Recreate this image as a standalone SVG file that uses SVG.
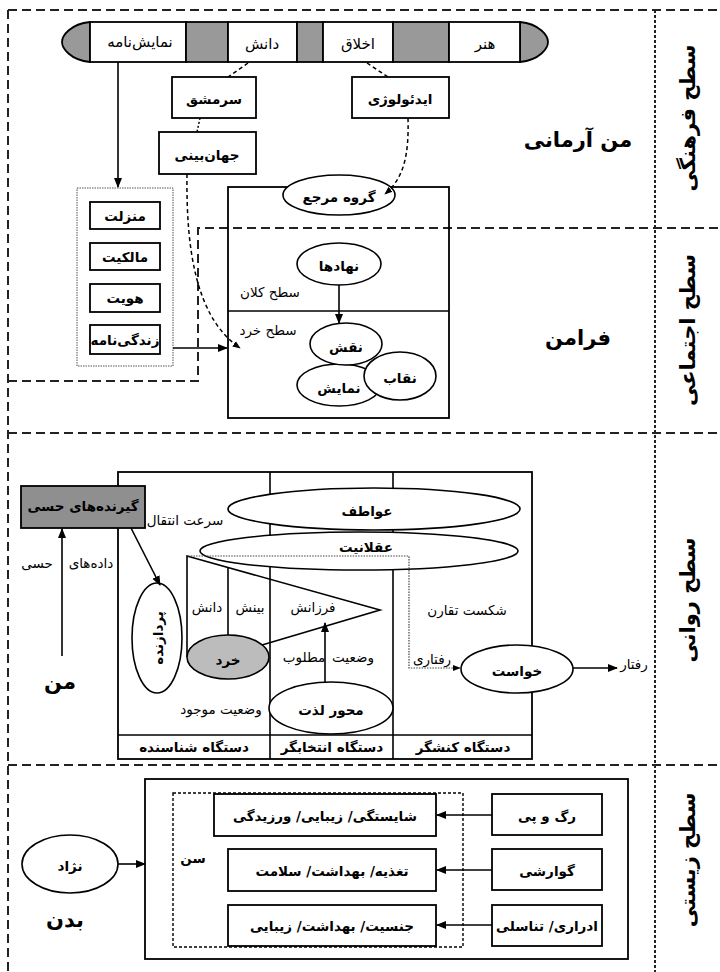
<svg xmlns="http://www.w3.org/2000/svg" width="720" height="972" viewBox="0 0 720 972">
  <defs>
    <marker id="ah" viewBox="0 0 10 10" refX="9" refY="5" markerWidth="8" markerHeight="8" markerUnits="userSpaceOnUse" orient="auto">
      <path d="M0,1 L10,5 L0,9 z" fill="#000"/>
    </marker>
    <marker id="ahL" viewBox="0 0 10 10" refX="9" refY="5" markerWidth="10" markerHeight="10" markerUnits="userSpaceOnUse" orient="auto">
      <path d="M0,1 L10,5 L0,9 z" fill="#000"/>
    </marker>
    <style>
      .frame { fill: none; stroke: #222; stroke-width: 2; stroke-dasharray: 9 5; }
      .divider { fill: none; stroke: #222; stroke-width: 2; stroke-dasharray: 3 2; }
      .box { fill: #fff; stroke: #000; stroke-width: 1.8; }
      .ell { fill: #fff; stroke: #000; stroke-width: 1.6; }
      .gray { fill: #999; stroke: #000; stroke-width: 1.8; }
      .ln { fill: none; stroke: #000; stroke-width: 1.6; }
      .dash { fill: none; stroke: #000; stroke-width: 1.5; stroke-dasharray: 4 3; }
      .dot { fill: none; stroke: #000; stroke-width: 1.5; stroke-dasharray: 2 2; }
      .fine { fill: none; stroke: #555; stroke-width: 1; stroke-dasharray: 1.5 1; }
      text { font-family: "DejaVu Sans", sans-serif; text-anchor: middle; dominant-baseline: central; fill: #000; }
      .t { font-size: 13.5px; }
      .tb { font-size: 13.5px; font-weight: bold; }
      .big { font-size: 21px; font-weight: bold; }
      .lvl { font-size: 21px; font-weight: bold; }
    </style>
  </defs>

  <rect width="720" height="972" fill="#fff"/>

  <!-- level frame and separators -->
  <g id="frame">
    <path class="frame" d="M8,10 H720 M8,10 V972"/>
    <path class="frame" d="M8,381 H198 V228 H720"/>
    <path class="frame" d="M8,433 H720"/>
    <path class="frame" d="M8,765 H720"/>
    <path class="divider" d="M655,10 V972"/>
  </g>

  <!-- level titles -->
  <g id="levels">
    <text class="lvl" transform="translate(688,118) rotate(-90)">سطح فرهنگی</text>
    <text class="lvl" transform="translate(688,330) rotate(-90)">سطح اجتماعی</text>
    <text class="lvl" transform="translate(688,600) rotate(-90)">سطح روانی</text>
    <text class="lvl" transform="translate(688,860) rotate(-90)">سطح زیستی</text>
  </g>

  <!-- cultural bar -->
  <g id="bar">
    <path class="gray" d="M90,22 C70,24 62,36 62,42 C62,48 70,60 90,62 z"/>
    <path class="gray" d="M520,22 C540,24 548,36 548,42 C548,48 540,60 520,62 z"/>
    <rect class="box" x="90" y="22" width="96" height="40"/>
    <rect class="gray" x="186" y="22" width="42" height="40"/>
    <rect class="box" x="228" y="22" width="69" height="40"/>
    <rect class="gray" x="297" y="22" width="26" height="40"/>
    <rect class="box" x="323" y="22" width="70" height="40"/>
    <rect class="gray" x="393" y="22" width="56" height="40"/>
    <rect class="box" x="449" y="22" width="71" height="40"/>
    <text x="140" y="42" font-size="15">نمایش&#x200C;نامه</text>
    <text x="262" y="44" font-size="15">دانش</text>
    <text x="358" y="44" font-size="15">اخلاق</text>
    <text x="485" y="44" font-size="15">هنر</text>
  </g>

  <g id="sarmashgh">
    <rect class="box" x="172" y="77" width="84" height="41"/>
    <text class="tb" x="214" y="99" font-size="15">سرمشق</text>
  </g>
  <g id="jahanbini">
    <rect class="box" x="159" y="132" width="97" height="42"/>
    <text class="tb" x="207" y="155" font-size="15">جهان&#x200C;بینی</text>
  </g>
  <g id="ideology">
    <rect class="box" x="352" y="77" width="97" height="41"/>
    <text class="tb" x="400" y="99" font-size="15">ایدئولوژی</text>
  </g>
  <g id="ideal-self">
    <text class="big" x="578" y="140">من آرمانی</text>
  </g>

  <!-- status list -->
  <g id="status-list">
    <rect class="fine" x="77" y="188" width="96" height="178"/>
    <rect class="box" x="90" y="202" width="70" height="27"/>
    <text class="tb" x="125" y="216">منزلت</text>
    <rect class="box" x="90" y="243" width="70" height="27"/>
    <text class="tb" x="125" y="257">مالکیت</text>
    <rect class="box" x="90" y="284" width="70" height="28"/>
    <text class="tb" x="125" y="298">هویت</text>
    <rect class="box" x="90" y="325" width="70" height="29"/>
    <text class="tb" x="125" y="340" font-size="11">زندگی&#x200C;نامه</text>
  </g>

  <!-- social box -->
  <g id="social-box">
    <rect x="228" y="187" width="221" height="231" fill="none" stroke="#000" stroke-width="1.8"/>
    <line class="ln" x1="228" y1="311" x2="449" y2="311"/>
    <text class="t" x="270" y="292">سطح کلان</text>
    <text class="t" x="268" y="330">سطح خرد</text>
  </g>
  <g id="reference-group">
    <ellipse class="ell" cx="339" cy="195" rx="56" ry="20"/>
    <text class="tb" x="339" y="197">گروه مرجع</text>
  </g>
  <g id="institutions">
    <ellipse class="ell" cx="339" cy="264" rx="42" ry="21"/>
    <text class="tb" x="339" y="266">نهادها</text>
  </g>
  <g id="show">
    <ellipse class="ell" cx="339" cy="385" rx="42" ry="21"/>
    <text class="tb" x="339" y="388">نمایش</text>
  </g>
  <g id="role">
    <ellipse class="ell" cx="346" cy="344" rx="36" ry="21"/>
    <text class="tb" x="346" y="347">نقش</text>
  </g>
  <g id="mask">
    <ellipse class="ell" cx="400" cy="376" rx="36" ry="24"/>
    <text class="tb" x="400" y="378">نقاب</text>
  </g>
  <g id="superego">
    <text class="big" x="578" y="338">فرامن</text>
  </g>

  <!-- psychological level -->
  <g id="psych-box">
    <rect x="118" y="472" width="414" height="287" fill="none" stroke="#000" stroke-width="1.8"/>
    <line class="ln" x1="118" y1="735" x2="532" y2="735"/>
    <line class="ln" x1="270" y1="472" x2="270" y2="759"/>
    <line class="ln" x1="393" y1="472" x2="393" y2="759"/>
    <text class="tb" x="194" y="747" font-size="12.5">دستگاه شناسنده</text>
    <text class="tb" x="332" y="747" font-size="12.5">دستگاه انتخابگر</text>
    <text class="tb" x="463" y="747" font-size="12.5">دستگاه  کنشگر</text>
  </g>
  <g id="emotions">
    <ellipse class="ell" cx="374" cy="509" rx="146" ry="21"/>
    <text class="tb" x="367" y="511" font-size="15">عواطف</text>
  </g>
  <g id="rationality">
    <ellipse class="ell" cx="359" cy="551" rx="159" ry="19"/>
    <text class="tb" x="366" y="547" font-size="15">عقلانیت</text>
  </g>
  <g id="wisdom-frame">
    <path class="ln" d="M187,657 V556 L380,610 L262,645"/>
    <line class="ln" x1="228" y1="567" x2="228" y2="636"/>
    <text class="t" x="207" y="607">دانش</text>
    <text class="t" x="250" y="607">بینش</text>
    <text class="t" x="313" y="607">فرزانش</text>
    <text class="t" x="353" y="657">وضعیت</text>
    <text class="t" x="304" y="657">مطلوب</text>
    <text class="t" x="221" y="709">وضعیت موجود</text>
    <text class="t" x="185" y="520">سرعت  انتقال</text>
    <text class="t" x="467" y="610">شکست تقارن</text>
    <text class="t" x="432" y="659">رفتاری</text>
    <text class="t" x="634" y="664">رفتار</text>
  </g>
  <g id="kherad">
    <ellipse cx="228" cy="657" rx="41" ry="22" fill="#bcbcbc" stroke="#000" stroke-width="1.6"/>
    <text class="tb" x="228" y="660" font-size="15">خرد</text>
  </g>
  <g id="processor">
    <ellipse class="ell" cx="157" cy="638" rx="25" ry="55"/>
    <text class="tb" transform="translate(158,638) rotate(-90)" font-size="17">پردازنده</text>
  </g>
  <g id="receptors">
    <rect x="21" y="486" width="124" height="42" fill="#8f8f8f" stroke="#000" stroke-width="1.8"/>
    <text class="tb" x="83" y="506">گیرنده&#x200C;های حسی</text>
  </g>
  <g id="self">
    <text class="t" x="91" y="563">داده&#x200C;های</text>
    <text class="t" x="37" y="563">حسی</text>
    <text class="big" x="60" y="682" font-size="25">من</text>
  </g>
  <g id="pleasure-axis">
    <ellipse class="ell" cx="331" cy="708" rx="62" ry="26"/>
    <text class="tb" x="331" y="710" font-size="16">محور لذت</text>
  </g>
  <g id="desire">
    <ellipse class="ell" cx="517" cy="669" rx="56" ry="24"/>
    <text class="tb" x="517" y="671" font-size="15">خواست</text>
  </g>

  <!-- biological level -->
  <g id="bio-box">
    <rect x="145" y="779" width="483" height="180" fill="none" stroke="#000" stroke-width="1.8"/>
    <rect x="173" y="793" width="290" height="154" fill="none" stroke="#000" stroke-width="1.4" stroke-dasharray="3 2"/>
    <text class="tb" x="193" y="858" font-size="16">سن</text>
  </g>
  <g id="fitness">
    <rect class="box" x="214" y="794" width="222" height="42"/>
    <text class="tb" x="325" y="816" font-size="14">شایستگی/ زیبایی/ ورزیدگی</text>
  </g>
  <g id="nutrition">
    <rect class="box" x="228" y="849" width="208" height="42"/>
    <text class="tb" x="332" y="871" font-size="14">تغذیه/ بهداشت/ سلامت</text>
  </g>
  <g id="gender">
    <rect class="box" x="228" y="905" width="208" height="41"/>
    <text class="tb" x="332" y="926" font-size="14">جنسیت/ بهداشت/ زیبایی</text>
  </g>
  <g id="nerves">
    <rect class="box" x="492" y="794" width="110" height="41"/>
    <text class="tb" x="547" y="816" font-size="14">رگ و پی</text>
  </g>
  <g id="digestive">
    <rect class="box" x="492" y="849" width="110" height="41"/>
    <text class="tb" x="547" y="871" font-size="14">گوارشی</text>
  </g>
  <g id="urogenital">
    <rect class="box" x="492" y="905" width="110" height="41"/>
    <text class="tb" x="547" y="926" font-size="14">ادراری/ تناسلی</text>
  </g>
  <g id="race">
    <ellipse class="ell" cx="70" cy="864" rx="48" ry="29"/>
    <text class="tb" x="70" y="866" font-size="15">نژاد</text>
  </g>
  <g id="body">
    <text class="big" x="65" y="920" font-size="23">بدن</text>
  </g>

  <!-- connectors -->
  <g id="connectors">
    <line class="ln" x1="118" y1="62" x2="118" y2="187" marker-end="url(#ahL)"/>
    <path class="dash" d="M248,63 L228,77"/>
    <path class="dot" d="M200,118 L197,132"/>
    <path class="dash" d="M367,63 L388,77"/>
    <path class="dash" d="M408,118 C409,155 404,178 385,194" marker-end="url(#ah)"/>
    <path class="dash" d="M187,174 C186,250 196,318 240,348" marker-end="url(#ah)"/>
    <line class="ln" x1="173" y1="348" x2="227" y2="348" marker-end="url(#ahL)"/>
    <line class="ln" x1="339" y1="285" x2="339" y2="323" marker-end="url(#ahL)"/>
    <line class="ln" x1="62" y1="656" x2="62" y2="529" marker-end="url(#ahL)"/>
    <line class="ln" x1="131" y1="528" x2="160" y2="585" marker-end="url(#ahL)"/>
    <line class="ln" x1="325" y1="682" x2="325" y2="623" marker-end="url(#ahL)"/>
    <path d="M188,556 H409 V668 H460" fill="none" stroke="#444" stroke-width="1.2" stroke-dasharray="1.5 1.2" marker-end="url(#ah)"/>
    <line class="ln" x1="573" y1="668" x2="617" y2="668" marker-end="url(#ahL)"/>
    <line class="ln" x1="118" y1="864" x2="145" y2="864" marker-end="url(#ahL)"/>
    <line class="ln" x1="492" y1="815" x2="437" y2="815" marker-end="url(#ahL)"/>
    <line class="ln" x1="492" y1="870" x2="437" y2="870" marker-end="url(#ahL)"/>
    <line class="ln" x1="492" y1="925" x2="437" y2="925" marker-end="url(#ahL)"/>
  </g>
</svg>
